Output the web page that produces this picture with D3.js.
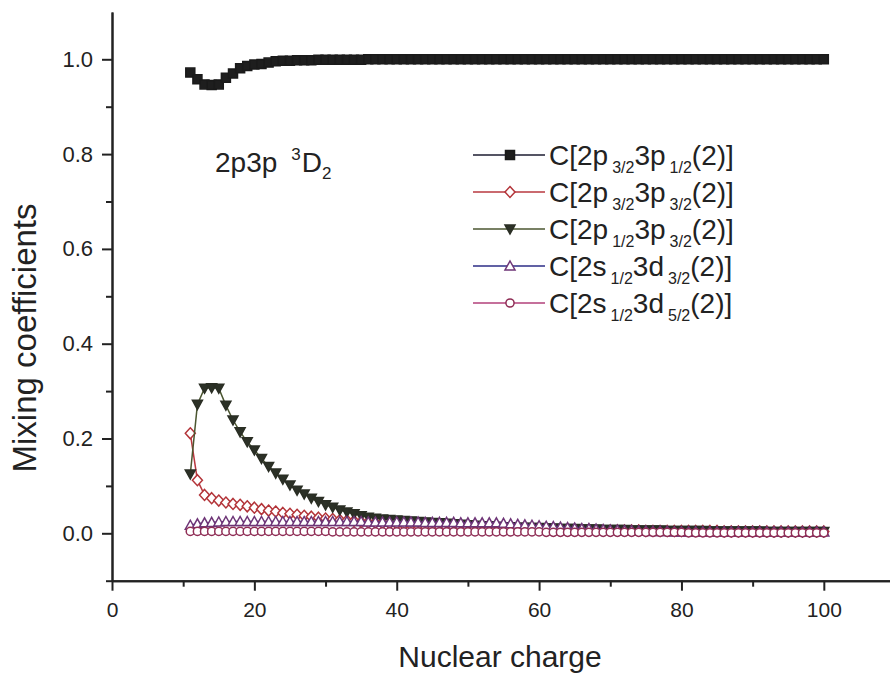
<!DOCTYPE html>
<html>
<head>
<meta charset="utf-8">
<script src="https://cdn.jsdelivr.net/npm/d3@7"></script>
<style>
  body { margin: 0; background: #fff; }
  text { font-family: "Liberation Sans", Arial, sans-serif; fill: #222; }
</style>
</head>
<body>
<div class="canvas"></div>
<script>
const dims = { width: 890, height: 677 };

// nuclear charge Z = 11 ... 100
const nuclearCharge = d3.range(11, 101);

const c32_12 = [
  0.972, 0.958, 0.947, 0.946, 0.947, 0.961, 0.970, 0.981, 0.986, 0.989,
  0.990, 0.993, 0.996, 0.997, 0.997, 0.998, 0.998, 0.998, 0.999, 0.999,
  0.999, 0.999, 0.999, 0.999, 0.999, 1.000, 1.000, 1.000, 1.000, 1.000,
  1.000, 1.000, 1.000, 1.000, 1.000, 1.000, 1.000, 1.000, 1.000, 1.000,
  1.000, 1.000, 1.000, 1.000, 1.000, 1.000, 1.000, 1.000, 1.000, 1.000,
  1.000, 1.000, 1.000, 1.000, 1.000, 1.000, 1.000, 1.000, 1.000, 1.000,
  1.000, 1.000, 1.000, 1.000, 1.000, 1.000, 1.000, 1.000, 1.000, 1.000,
  1.000, 1.000, 1.000, 1.000, 1.000, 1.000, 1.000, 1.000, 1.000, 1.000,
  1.000, 1.000, 1.000, 1.000, 1.000, 1.000, 1.000, 1.000, 1.000, 1.000
];

const c32_32 = [
  0.211, 0.112, 0.081, 0.074, 0.069, 0.065, 0.062, 0.060, 0.057, 0.054,
  0.051, 0.048, 0.046, 0.043, 0.041, 0.039, 0.037, 0.035, 0.033, 0.031,
  0.030, 0.028, 0.027, 0.026, 0.024, 0.023, 0.022, 0.021, 0.020, 0.019,
  0.018, 0.017, 0.016, 0.015, 0.015, 0.014, 0.013, 0.013, 0.012, 0.012,
  0.011, 0.011, 0.010, 0.010, 0.010, 0.009, 0.009, 0.009, 0.008, 0.008,
  0.008, 0.008, 0.007, 0.007, 0.007, 0.007, 0.007, 0.006, 0.006, 0.006,
  0.006, 0.006, 0.006, 0.006, 0.005, 0.005, 0.005, 0.005, 0.005, 0.005,
  0.005, 0.005, 0.005, 0.005, 0.005, 0.004, 0.004, 0.004, 0.004, 0.004,
  0.004, 0.004, 0.004, 0.004, 0.004, 0.004, 0.004, 0.004, 0.004, 0.004
];

const c12_32 = [
  0.125, 0.272, 0.306, 0.307, 0.306, 0.270, 0.239, 0.214, 0.193, 0.176,
  0.158, 0.141, 0.127, 0.114, 0.102, 0.091, 0.083, 0.074, 0.067, 0.060,
  0.055, 0.049, 0.045, 0.041, 0.037, 0.034, 0.032, 0.030, 0.029, 0.028,
  0.027, 0.026, 0.025, 0.024, 0.023, 0.022, 0.021, 0.020, 0.019, 0.018,
  0.017, 0.016, 0.016, 0.015, 0.014, 0.014, 0.013, 0.013, 0.012, 0.012,
  0.011, 0.011, 0.010, 0.010, 0.010, 0.009, 0.009, 0.009, 0.008, 0.008,
  0.008, 0.008, 0.007, 0.007, 0.007, 0.007, 0.007, 0.006, 0.006, 0.006,
  0.006, 0.006, 0.006, 0.005, 0.005, 0.005, 0.005, 0.005, 0.005, 0.005,
  0.005, 0.004, 0.004, 0.004, 0.004, 0.004, 0.004, 0.004, 0.004, 0.004
];

const c2s_d32 = [
  0.017, 0.020, 0.022, 0.023, 0.024, 0.025, 0.025, 0.025, 0.025, 0.025,
  0.025, 0.025, 0.025, 0.025, 0.025, 0.025, 0.025, 0.025, 0.025, 0.025,
  0.025, 0.025, 0.025, 0.025, 0.025, 0.024, 0.024, 0.024, 0.024, 0.024,
  0.024, 0.024, 0.024, 0.023, 0.023, 0.023, 0.023, 0.023, 0.022, 0.022,
  0.022, 0.022, 0.022, 0.022, 0.021, 0.020, 0.019, 0.018, 0.017, 0.016,
  0.015, 0.014, 0.013, 0.012, 0.011, 0.010, 0.010, 0.009, 0.008, 0.007,
  0.007, 0.006, 0.006, 0.005, 0.005, 0.004, 0.004, 0.004, 0.003, 0.003,
  0.003, 0.003, 0.003, 0.003, 0.003, 0.003, 0.003, 0.003, 0.003, 0.003,
  0.003, 0.003, 0.003, 0.003, 0.003, 0.003, 0.003, 0.003, 0.003, 0.003
];

const c2s_d52 = [
  0.004, 0.004, 0.004, 0.004, 0.004, 0.004, 0.004, 0.004, 0.004, 0.004,
  0.004, 0.004, 0.004, 0.004, 0.004, 0.004, 0.004, 0.004, 0.004, 0.004,
  0.003, 0.003, 0.003, 0.003, 0.003, 0.003, 0.003, 0.003, 0.003, 0.003,
  0.003, 0.003, 0.003, 0.003, 0.003, 0.003, 0.003, 0.003, 0.003, 0.003,
  0.003, 0.003, 0.003, 0.003, 0.003, 0.003, 0.003, 0.003, 0.003, 0.003,
  0.002, 0.002, 0.002, 0.002, 0.002, 0.002, 0.002, 0.002, 0.002, 0.002,
  0.002, 0.002, 0.002, 0.002, 0.002, 0.002, 0.002, 0.002, 0.002, 0.002,
  0.001, 0.001, 0.001, 0.001, 0.001, 0.001, 0.001, 0.001, 0.001, 0.001,
  0.001, 0.001, 0.001, 0.001, 0.001, 0.001, 0.001, 0.001, 0.001, 0.001
];

const yMajorTicks = [0.0, 0.2, 0.4, 0.6, 0.8, 1.0];
const yMinorTicks = [-0.1, 0.1, 0.3, 0.5, 0.7, 0.9];
const xMajorTicks = [0, 20, 40, 60, 80, 100];
const xMinorTicks = [10, 30, 50, 70, 90];

// legend label parts: [main, sub, main, sub, tail]
const series = [
  { values: c32_12, label: ['C[2p', '3/2', '3p', '1/2', '(2)]'], symbol: 'square', line: '#1c1c30', stroke: '#1a1a1a', fill: '#1e1e1e' },
  { values: c32_32, label: ['C[2p', '3/2', '3p', '3/2', '(2)]'], symbol: 'diamond', line: '#b8383f', stroke: '#b33439', fill: '#fff' },
  { values: c12_32, label: ['C[2p', '1/2', '3p', '3/2', '(2)]'], symbol: 'down', line: '#4b5630', stroke: '#2a2e24', fill: '#2c3127' },
  { values: c2s_d32, label: ['C[2s', '1/2', '3d', '3/2', '(2)]'], symbol: 'up', line: '#2c2c86', stroke: '#6e3577', fill: '#fff' },
  { values: c2s_d52, label: ['C[2s', '1/2', '3d', '5/2', '(2)]'], symbol: 'circle', line: '#b2407a', stroke: '#8f2d55', fill: '#fff' }
];

const svg = d3.select('.canvas')
  .append('svg')
  .attr('width', dims.width)
  .attr('height', dims.height);

const x = d3.scaleLinear().domain([0, 110]).range([112, 895]);
const y = d3.scaleLinear().domain([-0.1, 1.1]).range([580.7, 11.9]);

const symbolPath = (type) => {
  switch (type) {
    case 'square': return 'M-4.5,-4.5H4.5V4.5H-4.5Z';
    case 'diamond': return 'M0,-5.5L5,0L0,5.5L-5,0Z';
    case 'down': return 'M-5,-4H5L0,5Z';
    case 'up': return 'M-5,4H5L0,-5Z';
    default: return d3.symbol(d3.symbolCircle, 52)();
  }
};

// axes
const yAxis = svg.append('g')
  .attr('transform', `translate(${x(0)},0)`)
  .call(d3.axisLeft(y).tickValues(yMajorTicks).tickSize(10).tickSizeOuter(0).tickPadding(9).tickFormat(d3.format('.1f')));
svg.append('g')
  .attr('transform', `translate(${x(0)},0)`)
  .call(d3.axisLeft(y).tickValues(yMinorTicks).tickSize(6).tickSizeOuter(0).tickFormat(''));

const xAxis = svg.append('g')
  .attr('transform', `translate(0,${y(-0.1)})`)
  .call(d3.axisBottom(x).tickValues(xMajorTicks).tickSize(10).tickSizeOuter(0).tickPadding(11));
svg.append('g')
  .attr('transform', `translate(0,${y(-0.1)})`)
  .call(d3.axisBottom(x).tickValues(xMinorTicks).tickSize(6).tickSizeOuter(0).tickFormat(''));

svg.selectAll('.domain, .tick line').attr('stroke', '#222').attr('stroke-width', 2);
yAxis.attr('font-size', 22).attr('font-family', null);
xAxis.attr('font-size', 21).attr('font-family', null);
yAxis.selectAll('text').attr('fill', '#222');
xAxis.selectAll('text').attr('fill', '#222');

svg.append('text')
  .attr('transform', `translate(36,338) rotate(-90)`)
  .attr('text-anchor', 'middle')
  .style('font-size', '33px')
  .text('Mixing coefficients');

svg.append('text')
  .attr('x', 500)
  .attr('y', 667)
  .attr('text-anchor', 'middle')
  .style('font-size', '30px')
  .text('Nuclear charge');

// annotation 2p3p 3D2
const note = svg.append('text').attr('x', 215).attr('y', 172).style('font-size', '28px');
note.append('tspan').text('2p3p');
note.append('tspan').attr('dx', 14).attr('dy', -12).style('font-size', '17px').text('3');
note.append('tspan').attr('dx', 1).attr('dy', 12).text('D');
note.append('tspan').attr('dy', 7).style('font-size', '17px').text('2');

// series
const line = d3.line().x((d, i) => x(nuclearCharge[i])).y(d => y(d));
const plot = svg.append('g');

series.forEach(s => {
  plot.append('path')
    .attr('d', line(s.values))
    .attr('fill', 'none')
    .attr('stroke', s.line)
    .attr('stroke-width', 1.5);
  plot.append('g').selectAll('path')
    .data(s.values)
    .enter()
    .append('path')
    .attr('transform', (d, i) => `translate(${x(nuclearCharge[i])},${y(d)})`)
    .attr('d', symbolPath(s.symbol))
    .attr('fill', s.fill)
    .attr('stroke', s.stroke)
    .attr('stroke-width', 1.5);
});

// legend
const legend = svg.append('g');
series.forEach((s, i) => {
  const ly = 155 + i * 37;
  legend.append('line')
    .attr('x1', 473).attr('x2', 545)
    .attr('y1', ly).attr('y2', ly)
    .attr('stroke', s.line).attr('stroke-width', 1.5);
  legend.append('path')
    .attr('transform', `translate(510,${ly})`)
    .attr('d', symbolPath(s.symbol))
    .attr('fill', s.fill)
    .attr('stroke', s.stroke)
    .attr('stroke-width', 1.5);
  const t = legend.append('text').attr('x', 549).attr('y', ly + 10).style('font-size', '28px');
  t.append('tspan').text(s.label[0]);
  t.append('tspan').attr('dx', 4).attr('dy', 8).style('font-size', '16px').text(s.label[1]);
  t.append('tspan').attr('dy', -8).text(s.label[2]);
  t.append('tspan').attr('dx', 4).attr('dy', 8).style('font-size', '16px').text(s.label[3]);
  t.append('tspan').attr('dy', -8).text(s.label[4]);
});
</script>
</body>
</html>
